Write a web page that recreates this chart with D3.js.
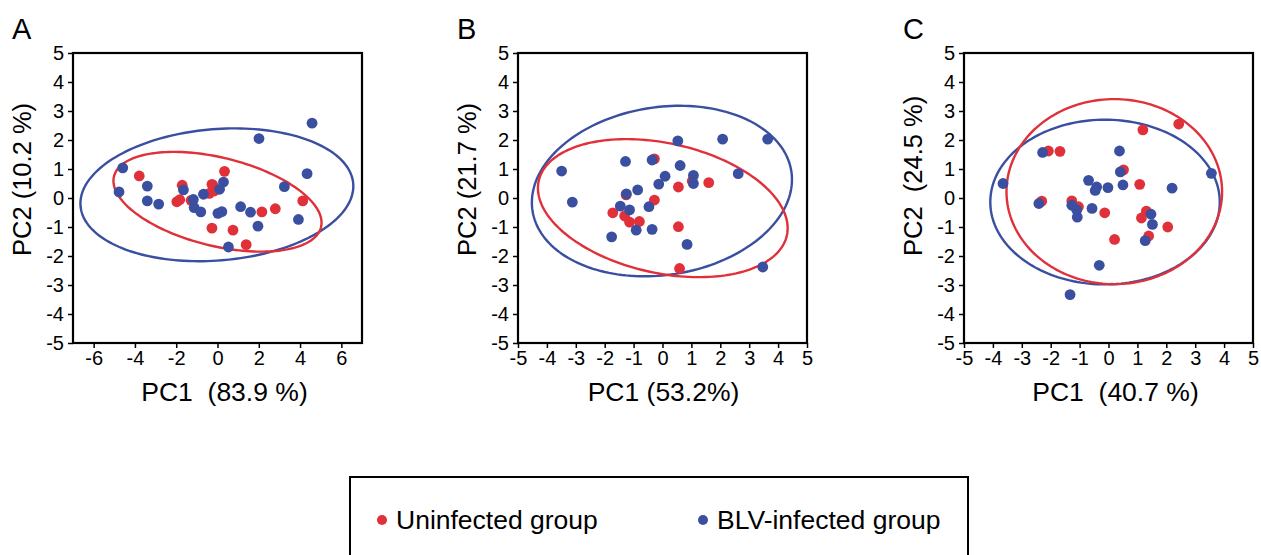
<!DOCTYPE html>
<html>
<head>
<meta charset="utf-8">
<script src="https://cdn.jsdelivr.net/npm/d3@7"></script>
<style>
  body { margin: 0; background: #fff; }
  svg { font-family: "Liberation Sans", Arial, sans-serif; }
  text { white-space: pre; }
</style>
</head>
<body>
<div id="chart"></div>
<script>
// panel labels and axis titles
const panelLetters = ["A", "B", "C"];
const xTitles = ["PC1  (83.9 %)", "PC1 (53.2%)", "PC1  (40.7 %)"];
const yTitles = ["PC2 (10.2 %)", "PC2 (21.7 %)", "PC2  (24.5 %)"];
const xDomains = [[-7, 7], [-5, 5], [-5, 5]];
const xTickValues = [
  [-6, -4, -2, 0, 2, 4, 6],
  [-5, -4, -3, -2, -1, 0, 1, 2, 3, 4, 5],
  [-5, -4, -3, -2, -1, 0, 1, 2, 3, 4, 5]
];
const yTickValues = [-5, -4, -3, -2, -1, 0, 1, 2, 3, 4, 5];
const groupNames = ["Uninfected group", "BLV-infected group"];

// PCA scores
const uninfectedA = [
  [-3.79, 0.76], [-1.71, 0.44], [-1.97, -0.13], [-1.83, -0.06], [-1.28, -0.08],
  [-0.22, 0.44], [-0.40, 0.16], [-0.16, 0.24], [-0.27, 0.47], [0.34, 0.92],
  [-0.27, -1.04], [0.75, -1.11], [1.39, -1.61], [2.15, -0.48], [2.80, -0.37], [4.13, -0.10]
];
const infectedA = [
  [-4.59, 1.04], [-4.77, 0.21], [-3.40, 0.41], [-3.40, -0.10], [-2.85, -0.21],
  [-1.65, 0.28], [-1.17, -0.05], [-1.13, -0.33], [-0.81, -0.48], [-0.68, 0.13],
  [0.10, 0.30], [0.29, 0.55], [0.02, -0.53], [0.21, -0.47], [1.12, -0.30],
  [1.60, -0.49], [1.96, -0.97], [2.01, 2.05], [3.24, 0.39], [4.34, 0.84],
  [3.92, -0.74], [4.58, 2.58], [0.53, -1.69]
];
const uninfectedB = [
  [-1.72, -0.51], [-1.31, -0.62], [-1.14, -0.83], [-0.80, -0.81], [-1.26, 0.11],
  [-0.28, -0.07], [-0.28, 1.35], [0.55, 0.38], [1.03, 0.58], [1.60, 0.53],
  [0.55, -0.99], [0.59, -2.43]
];
const infectedB = [
  [0.53, 1.97], [2.08, 2.03], [3.64, 2.03], [-3.49, 0.93], [-3.12, -0.14],
  [-1.28, 1.26], [-0.36, 1.31], [0.61, 1.12], [0.09, 0.75], [-0.13, 0.48],
  [1.07, 0.78], [1.07, 0.50], [2.62, 0.84], [-0.86, 0.28], [-1.25, 0.14],
  [-1.46, -0.28], [-1.14, -0.41], [-0.47, -0.30], [-0.91, -1.11], [-0.36, -1.08],
  [-1.76, -1.34], [0.85, -1.60], [3.47, -2.38]
];
const uninfectedC = [
  [-2.08, 1.62], [-1.68, 1.61], [-2.31, -0.11], [-1.27, -0.10], [-1.04, -0.30],
  [0.52, 0.97], [-0.13, -0.51], [1.08, 0.47], [1.19, 2.35], [2.43, 2.55],
  [1.31, -0.45], [1.14, -0.69], [2.05, -1.00], [1.39, -1.31], [0.21, -1.43]
];
const infectedC = [
  [-3.65, 0.50], [-2.28, 1.57], [-2.41, -0.19], [-1.27, -0.25], [-1.10, -0.41],
  [-1.08, -0.66], [-0.57, -0.36], [-0.69, 0.61], [-0.41, 0.38], [-0.46, 0.26],
  [-0.02, 0.36], [0.38, 1.62], [0.41, 0.90], [0.50, 0.45], [2.20, 0.34],
  [3.56, 0.85], [1.47, -0.56], [1.52, -0.91], [1.27, -1.47], [-0.32, -2.32],
  [-1.33, -3.33]
];

// confidence ellipses: [centerX, centerY, halfWidthX, halfHeightY, correlation]
const ellipsesUninfected = [
  [0.00, -0.13, 5.04, 1.72, -0.42],
  [0.01, -0.35, 4.32, 2.38, -0.29],
  [0.20, 0.22, 3.73, 3.19, 0.00]
];
const ellipsesInfected = [
  [-0.03, 0.11, 6.61, 2.29, 0.13],
  [-0.02, 0.24, 4.50, 2.94, 0.135],
  [-0.12, -0.14, 3.97, 2.84, 0.00]
];

const uninfected = [uninfectedA, uninfectedB, uninfectedC];
const infected = [infectedA, infectedB, infectedC];

const red = "#e0303a";
const blue = "#3a4fa0";
const width = 1261, height = 555;
const boxLefts = [73, 518, 964];
const boxTop = 53, boxW = 289, boxH = 290;

const svg = d3.select("#chart").append("svg")
  .attr("width", width)
  .attr("height", height);

function ellipsePoints(e) {
  const [cx, cy, sx, sy, r] = e;
  const s = Math.sqrt(1 - r * r);
  return d3.range(0, 360, 2).map(deg => {
    const t = deg * Math.PI / 180;
    return [cx + sx * Math.cos(t), cy + sy * (r * Math.cos(t) + s * Math.sin(t))];
  });
}

panelLetters.forEach((letter, i) => {
  const left = boxLefts[i];
  const x = d3.scaleLinear().domain(xDomains[i]).range([left, left + boxW]);
  const y = d3.scaleLinear().domain([-5, 5]).range([boxTop + boxH, boxTop]);
  const g = svg.append("g");

  g.append("text")
    .attr("x", left - 61)
    .attr("y", 39)
    .attr("font-size", 29)
    .text(letter);

  const xAxis = g.append("g")
    .attr("transform", `translate(0,${boxTop + boxH})`)
    .call(d3.axisBottom(x).tickValues(xTickValues[i]).tickSize(5).tickPadding(3));
  const yAxis = g.append("g")
    .attr("transform", `translate(${left},0)`)
    .call(d3.axisLeft(y).tickValues(yTickValues).tickSize(5).tickPadding(4));

  [xAxis, yAxis].forEach(ax => {
    ax.select(".domain").remove();
    ax.selectAll("line").attr("stroke", "#000").attr("stroke-width", 1.5);
    ax.selectAll("text")
      .attr("font-size", 20)
      .attr("font-family", "Liberation Sans, Arial, sans-serif")
      .attr("fill", "#000")
      .text(d => d < 0 ? "-" + Math.abs(d) : d);
  });

  g.append("rect")
    .attr("x", left)
    .attr("y", boxTop)
    .attr("width", boxW)
    .attr("height", boxH)
    .attr("fill", "none")
    .attr("stroke", "#000")
    .attr("stroke-width", 2.2);

  const line = d3.line()
    .x(d => x(d[0]))
    .y(d => y(d[1]))
    .curve(d3.curveLinearClosed);

  g.append("path")
    .attr("d", line(ellipsePoints(ellipsesInfected[i])))
    .attr("fill", "none")
    .attr("stroke", blue)
    .attr("stroke-width", 2.4);
  g.append("path")
    .attr("d", line(ellipsePoints(ellipsesUninfected[i])))
    .attr("fill", "none")
    .attr("stroke", red)
    .attr("stroke-width", 2.4);

  g.append("g").selectAll("circle")
    .data(uninfected[i])
    .join("circle")
    .attr("cx", d => x(d[0]))
    .attr("cy", d => y(d[1]))
    .attr("r", 5.4)
    .attr("fill", red);
  g.append("g").selectAll("circle")
    .data(infected[i])
    .join("circle")
    .attr("cx", d => x(d[0]))
    .attr("cy", d => y(d[1]))
    .attr("r", 5.4)
    .attr("fill", blue);

  g.append("text")
    .attr("x", left + boxW / 2 + (i === 1 ? 1 : 7))
    .attr("y", 401)
    .attr("text-anchor", "middle")
    .attr("font-size", 26.5)
    .text(xTitles[i]);

  g.append("text")
    .attr("transform", `translate(${left - 42},256) rotate(-90)`)
    .attr("font-size", 25.5)
    .text(yTitles[i]);
});

// legend
const legend = svg.append("g");
legend.append("rect")
  .attr("x", 350)
  .attr("y", 477)
  .attr("width", 618)
  .attr("height", 110)
  .attr("fill", "none")
  .attr("stroke", "#000")
  .attr("stroke-width", 2);

const legendX = [382, 703];
const legendColors = [red, blue];
groupNames.forEach((name, k) => {
  legend.append("circle")
    .attr("cx", legendX[k])
    .attr("cy", 520)
    .attr("r", 5)
    .attr("fill", legendColors[k]);
  legend.append("text")
    .attr("x", legendX[k] + 14)
    .attr("y", 529)
    .attr("font-size", 26.5)
    .text(name);
});
</script>
</body>
</html>
